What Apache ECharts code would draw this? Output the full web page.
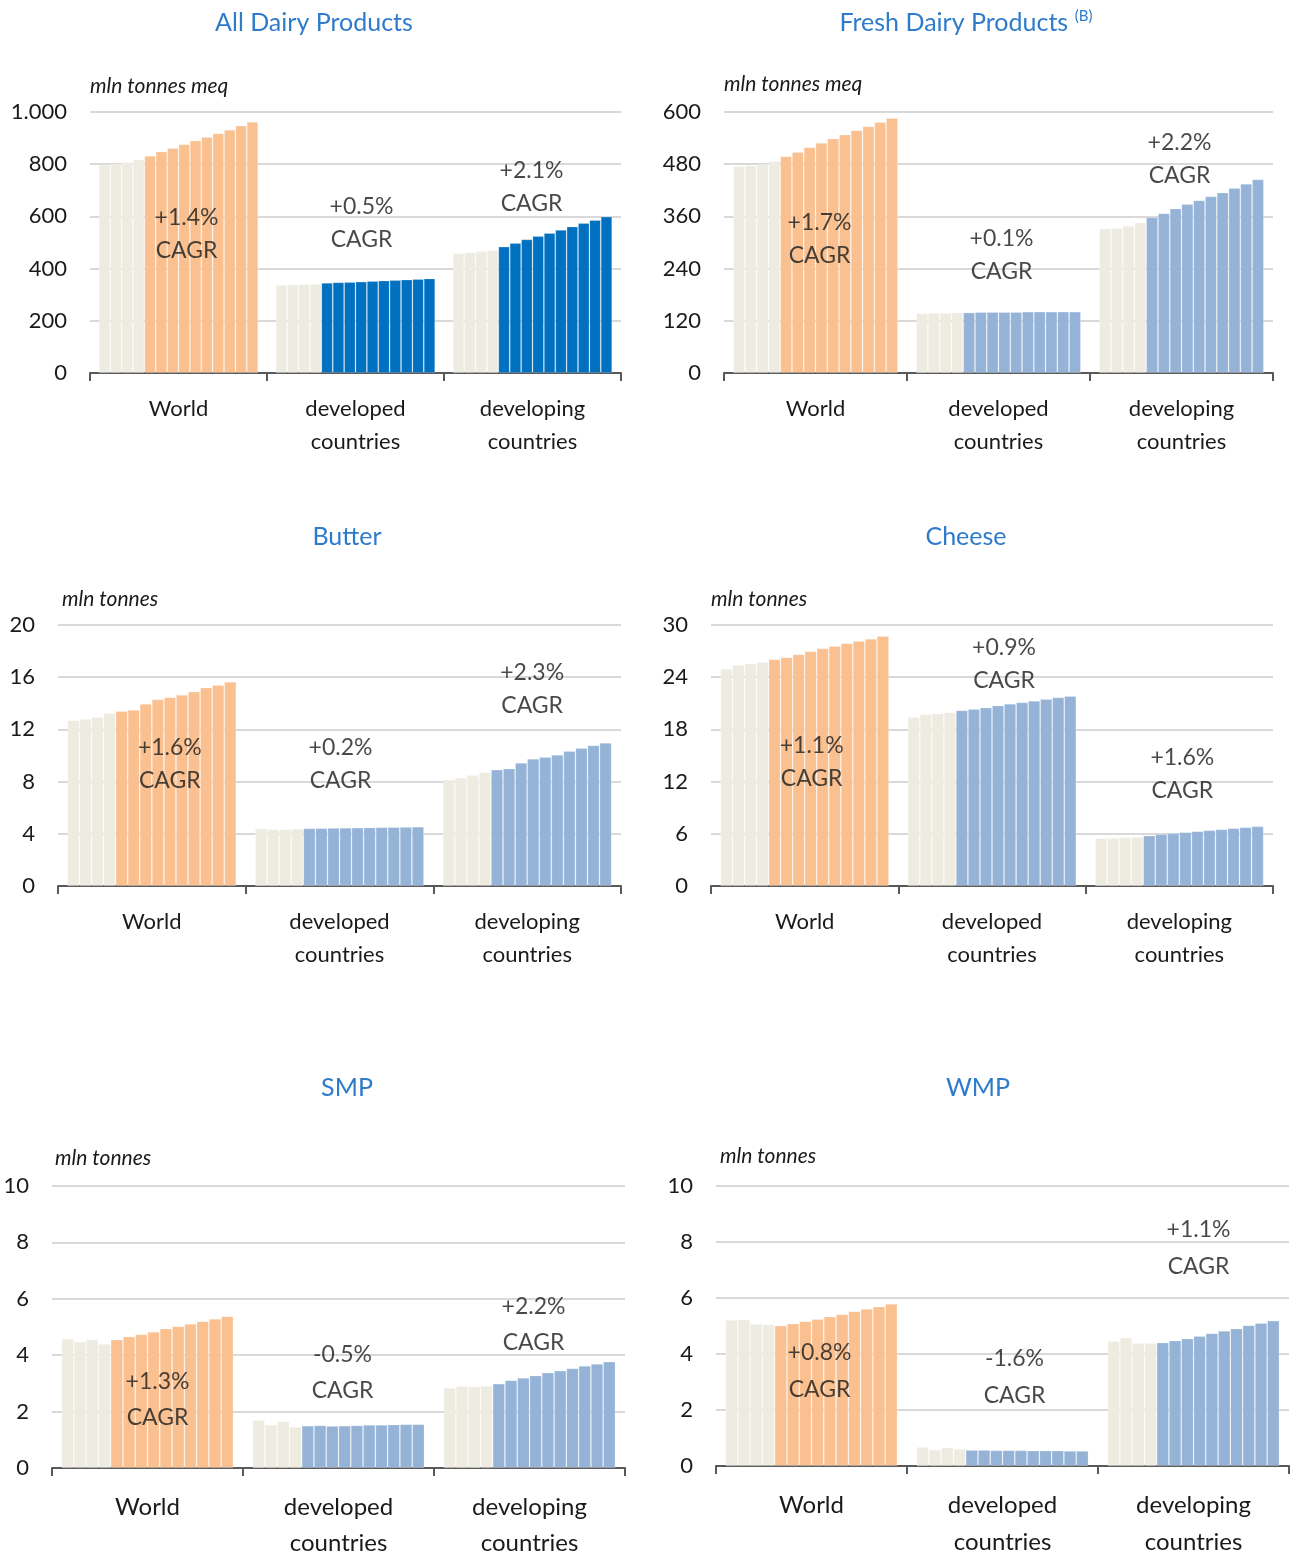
<!DOCTYPE html>
<html>
<head>
<meta charset="utf-8">
<script src="https://cdn.jsdelivr.net/npm/echarts@6/dist/echarts.min.js"></script>
<style>
  html, body { margin: 0; padding: 0; background: #ffffff; }
  #chart { width: 1295px; height: 1561px; }
</style>
</head>
<body>
<div id="chart"></div>
<script>
// Region groups on every x axis
const regions = ['World', 'developed\ncountries', 'developing\ncountries'];
// Number of historical years (beige) before the projection years in each group
const historicalYears = 4;

// All dairy products, mln tonnes milk equivalent
const allDairyWorld      = [798, 801, 808, 818, 832, 848, 862, 876, 890, 904, 918, 932, 948, 962];
const allDairyDeveloped  = [337, 339, 341, 342, 345, 347, 348, 350, 352, 354, 356, 358, 360, 362];
const allDairyDeveloping = [458, 461, 466, 471, 484, 498, 512, 525, 536, 548, 561, 574, 586, 599];
const allDairyCagr       = ['+1.4%', '+0.5%', '+2.1%'];

// Fresh dairy products, mln tonnes milk equivalent
const freshWorld      = [475, 477, 480, 487, 498, 508, 519, 529, 539, 548, 558, 567, 577, 586];
const freshDeveloped  = [137, 138, 138, 139, 139, 140, 140, 140, 140, 141, 141, 141, 141, 141];
const freshDeveloping = [332, 333, 338, 346, 358, 367, 378, 388, 397, 406, 415, 425, 435, 445];
const freshCagr       = ['+1.7%', '+0.1%', '+2.2%'];

// Butter, mln tonnes
const butterWorld      = [12.7, 12.8, 12.95, 13.25, 13.4, 13.5, 13.95, 14.3, 14.45, 14.65, 14.9, 15.2, 15.4, 15.65];
const butterDeveloped  = [4.4, 4.35, 4.35, 4.38, 4.42, 4.43, 4.45, 4.46, 4.47, 4.48, 4.5, 4.51, 4.52, 4.54];
const butterDeveloping = [8.15, 8.3, 8.5, 8.7, 8.92, 9.0, 9.44, 9.74, 9.87, 10.05, 10.33, 10.56, 10.77, 10.97];
const butterCagr       = ['+1.6%', '+0.2%', '+2.3%'];

// Cheese, mln tonnes
const cheeseWorld      = [24.97, 25.43, 25.55, 25.74, 26.05, 26.28, 26.62, 26.97, 27.31, 27.58, 27.89, 28.16, 28.42, 28.73];
const cheeseDeveloped  = [19.41, 19.72, 19.83, 19.95, 20.18, 20.33, 20.52, 20.75, 20.94, 21.1, 21.29, 21.48, 21.67, 21.83];
const cheeseDeveloping = [5.49, 5.52, 5.6, 5.64, 5.79, 5.95, 6.06, 6.18, 6.29, 6.41, 6.52, 6.64, 6.75, 6.87];
const cheeseCagr       = ['+1.1%', '+0.9%', '+1.6%'];

// Skimmed milk powder, mln tonnes
const smpWorld      = [4.58, 4.48, 4.56, 4.4, 4.55, 4.66, 4.74, 4.83, 4.94, 5.02, 5.11, 5.2, 5.29, 5.38];
const smpDeveloped  = [1.7, 1.53, 1.65, 1.46, 1.5, 1.51, 1.49, 1.5, 1.51, 1.53, 1.53, 1.54, 1.55, 1.55];
const smpDeveloping = [2.84, 2.91, 2.89, 2.91, 2.99, 3.11, 3.2, 3.28, 3.38, 3.45, 3.53, 3.62, 3.69, 3.77];
const smpCagr       = ['+1.3%', '-0.5%', '+2.2%'];

// Whole milk powder, mln tonnes
const wmpWorld      = [5.22, 5.23, 5.08, 5.06, 5.01, 5.09, 5.17, 5.25, 5.34, 5.42, 5.52, 5.61, 5.69, 5.79];
const wmpDeveloped  = [0.68, 0.58, 0.66, 0.61, 0.57, 0.57, 0.56, 0.56, 0.56, 0.55, 0.55, 0.55, 0.54, 0.54];
const wmpDeveloping = [4.46, 4.59, 4.39, 4.39, 4.41, 4.48, 4.55, 4.64, 4.74, 4.83, 4.91, 5.02, 5.1, 5.19];
const wmpCagr       = ['+0.8%', '-1.6%', '+1.1%'];

// Panel titles, units and y-axis ranges
const panelTitles = ['All Dairy Products', 'Fresh Dairy Products', 'Butter', 'Cheese', 'SMP', 'WMP'];
const panelUnits  = ['mln tonnes meq', 'mln tonnes meq', 'mln tonnes', 'mln tonnes', 'mln tonnes', 'mln tonnes'];
const yMax        = [1000, 600, 20, 30, 10, 10];
const yStep       = [200, 120, 4, 6, 2, 2];

const panelData = [
  [allDairyWorld, allDairyDeveloped, allDairyDeveloping],
  [freshWorld, freshDeveloped, freshDeveloping],
  [butterWorld, butterDeveloped, butterDeveloping],
  [cheeseWorld, cheeseDeveloped, cheeseDeveloping],
  [smpWorld, smpDeveloped, smpDeveloping],
  [wmpWorld, wmpDeveloped, wmpDeveloping]
];
const panelCagr = [allDairyCagr, freshCagr, butterCagr, cheeseCagr, smpCagr, wmpCagr];

// Colours
const COLOR_HIST   = '#EEECE1';
const COLOR_WORLD  = '#FAC08F';
const COLOR_DARK   = '#0070C0';
const COLOR_LIGHT  = '#95B3D7';
const COLOR_TITLE  = '#2E7BCB';
const COLOR_TEXT   = '#1A1A1A';
const FONT = 'Lato, "Liberation Sans", sans-serif';

// Placement of each small multiple (pixels) and of its CAGR notes
const layout = [
  { left: 90,  top: 112,  width: 531, height: 261, titleX: 314, titleY: 23,   unitX: 90,  unitY: 86,   proj: COLOR_DARK,
    noteY: [531, 573, 711],     noteDx: [8, 6, -1],  fs: 22, nfs: 23, lh: 33, labTop: 19 },
  { left: 724, top: 112,  width: 549, height: 261, titleX: 966, titleY: 23,   unitX: 724, unitY: 84,   proj: COLOR_LIGHT,
    noteY: [309, 272, 491],     noteDx: [4, 3, -2],  fs: 22, nfs: 23, lh: 33, labTop: 19 },
  { left: 58,  top: 625,  width: 563, height: 261, titleX: 347, titleY: 537,  unitX: 62,  unitY: 599,  proj: COLOR_LIGHT,
    noteY: [9.31, 9.31, 15.06], noteDx: [18, 1, 5],  fs: 22, nfs: 23, lh: 33, labTop: 19 },
  { left: 711, top: 625,  width: 562, height: 261, titleX: 966, titleY: 537,  unitX: 711, unitY: 599,  proj: COLOR_LIGHT,
    noteY: [14.2, 25.46, 12.82], noteDx: [7, 12, 3], fs: 22, nfs: 23, lh: 33, labTop: 19 },
  { left: 52,  top: 1186, width: 573, height: 292, titleX: 347, titleY: 1088, unitX: 55,  unitY: 1158, proj: COLOR_LIGHT,
    noteY: [2.44, 3.38, 5.07],  noteDx: [10, 4, 4],  fs: 24, nfs: 23, lh: 36, labTop: 21 },
  { left: 716, top: 1186, width: 573, height: 292, titleX: 978, titleY: 1088, unitX: 720, unitY: 1156, proj: COLOR_LIGHT,
    noteY: [3.38, 3.17, 7.79],  noteDx: [8, 12, 5],  fs: 24, nfs: 23, lh: 37, labTop: 21 }
];

function formatTick(v) {
  // thousands separated with a dot
  return String(v).replace(/\B(?=(\d{3})+(?!\d))/g, '.');
}

const grids = [], xAxes = [], yAxes = [], series = [], graphics = [];

panelData.forEach(function (groups, p) {
  const L = layout[p];
  grids.push({ left: L.left, top: L.top, width: L.width, height: L.height, containLabel: false });

  xAxes.push({
    type: 'category', gridIndex: p, data: regions,
    axisLine: { show: true, lineStyle: { color: '#595959', width: 2 } },
    axisTick: { show: true, length: 8, lineStyle: { color: '#595959', width: 2 } },
    axisLabel: { color: COLOR_TEXT, fontFamily: FONT, fontSize: L.fs, lineHeight: L.lh, margin: L.labTop, interval: 0 },
    splitLine: { show: false }
  });

  yAxes.push({
    type: 'value', gridIndex: p, min: 0, max: yMax[p], interval: yStep[p],
    axisLine: { show: false }, axisTick: { show: false },
    axisLabel: { color: COLOR_TEXT, fontFamily: FONT, fontSize: 22, margin: 23, formatter: formatTick },
    splitLine: { show: true, lineStyle: { color: '#D9D9D9', width: 2 } }
  });

  const nYears = groups[0].length;
  for (let j = 0; j < nYears; j++) {
    series.push({
      type: 'bar', xAxisIndex: p, yAxisIndex: p,
      barGap: '0%', barCategoryGap: '10%',
      silent: true,
      data: groups.map(function (vals, g) {
        let c = COLOR_HIST;
        if (j >= historicalYears) c = g === 0 ? COLOR_WORLD : L.proj;
        return {
          value: vals[j],
          itemStyle: { color: c, borderColor: 'rgba(255,255,255,0.28)', borderWidth: 0.8 }
        };
      })
    });
  }

  // CAGR notes for the three groups
  series.push({
    type: 'scatter', xAxisIndex: p, yAxisIndex: p, symbolSize: 1, silent: true, z: 5,
    itemStyle: { color: 'rgba(0,0,0,0)' },
    data: panelCagr[p].map(function (t, g) {
      return {
        value: [g, L.noteY[g]],
        label: {
          show: true, position: 'inside', offset: [L.noteDx[g], 0],
          formatter: t + '\nCAGR', color: COLOR_TEXT, fontFamily: FONT,
          fontSize: L.nfs, lineHeight: L.lh
        }
      };
    })
  });

  // Panel title
  if (p === 1) {
    graphics.push({
      type: 'text', x: L.titleX, y: L.titleY,
      style: {
        text: '{m|' + panelTitles[p] + '}  {s|(B)}', align: 'center', verticalAlign: 'middle',
        rich: {
          m: { fontFamily: FONT, fontSize: 25, fill: COLOR_TITLE, color: COLOR_TITLE },
          s: { fontFamily: FONT, fontSize: 15, fill: COLOR_TITLE, color: COLOR_TITLE, padding: [0, 0, 14, 0] }
        }
      }
    });
  } else {
    graphics.push({
      type: 'text', x: L.titleX, y: L.titleY,
      style: { text: panelTitles[p], align: 'center', verticalAlign: 'middle',
        fontFamily: FONT, fontSize: 25, fill: COLOR_TITLE }
    });
  }

  // Unit label above the value axis
  graphics.push({
    type: 'text', x: L.unitX, y: L.unitY,
    style: { text: panelUnits[p], align: 'left', verticalAlign: 'middle',
      fontFamily: FONT, fontSize: 21, fontStyle: 'italic', fill: COLOR_TEXT }
  });
});

const chart = echarts.init(document.getElementById('chart'), null, { renderer: 'canvas' });
chart.setOption({
  backgroundColor: '#ffffff',
  animation: false,
  textStyle: { fontFamily: FONT },
  grid: grids,
  xAxis: xAxes,
  yAxis: yAxes,
  series: series,
  graphic: graphics
});
</script>
</body>
</html>
